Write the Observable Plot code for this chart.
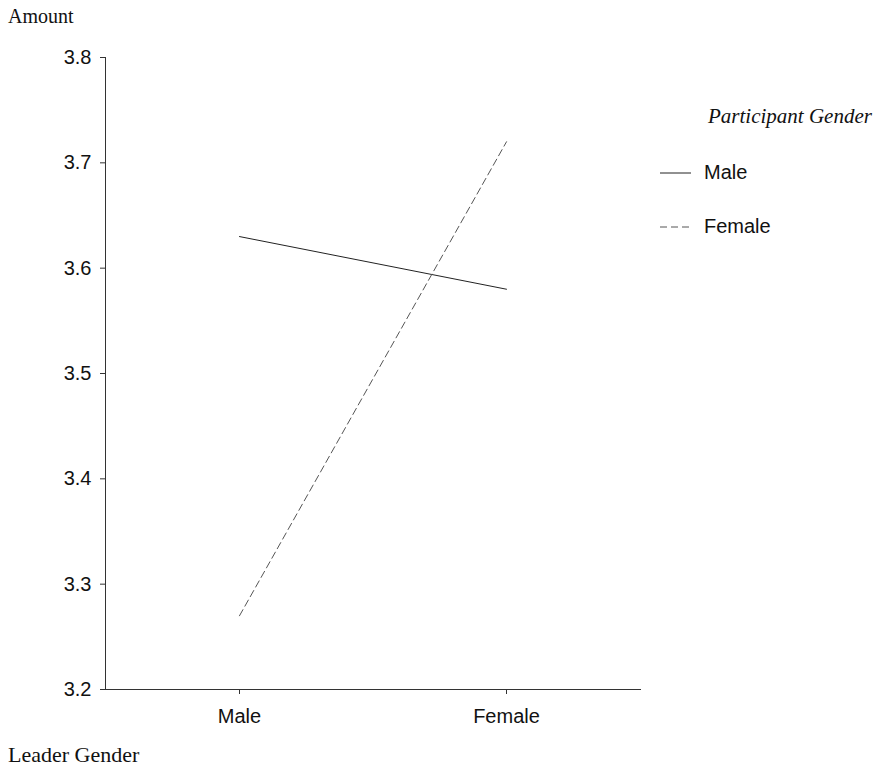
<!DOCTYPE html>
<html>
<head>
<meta charset="utf-8">
<script src="https://cdn.jsdelivr.net/npm/d3@7"></script>
<script src="https://cdn.jsdelivr.net/npm/@observablehq/plot@0.6"></script>
<style>
  body { margin: 0; background: #fff; }
  #wrap { position: relative; width: 883px; height: 777px; }
  .serif { font-family: "Liberation Serif", "DejaVu Serif", serif; color: #111; position: absolute; }
  .legend { position: absolute; left: 655px; top: 100px; font-family: "Liberation Sans", Arial, sans-serif; color: #111; }
</style>
</head>
<body>
<div id="wrap"></div>
<script>
const leaderGender = ["Male", "Female"];
const participantGender = ["Male", "Female"];
const maleParticipants = [3.63, 3.58];
const femaleParticipants = [3.27, 3.72];
const yTicks = [3.2, 3.3, 3.4, 3.5, 3.6, 3.7, 3.8];
const yTitle = "Amount";
const xTitle = "Leader Gender";
const legendTitle = "Participant Gender";

const rows = [];
leaderGender.forEach((g, i) => {
  rows.push({leader: g, participant: "Male", amount: maleParticipants[i]});
  rows.push({leader: g, participant: "Female", amount: femaleParticipants[i]});
});

const chart = Plot.plot({
  width: 883,
  height: 777,
  marginTop: 57,
  marginBottom: 88,
  marginLeft: 105,
  marginRight: 243,
  style: {fontFamily: "'Liberation Sans', Arial, sans-serif", fontSize: "20px", color: "#111", background: "#fff"},
  x: {type: "point", domain: leaderGender, padding: 0.5, label: null},
  y: {domain: [3.2, 3.8], ticks: yTicks, label: null},
  marks: [
    Plot.frame({anchor: "left", stroke: "#333"}),
    Plot.frame({anchor: "bottom", stroke: "#333"}),
    Plot.axisY({ticks: yTicks, tickSize: 5, tickPadding: 9, tickFormat: d3.format(".1f"), label: null, fontSize: 20, stroke: "#333"}),
    Plot.axisX({tickSize: 5, tickPadding: 14, label: null, fontSize: 20, stroke: "#333"}),
    Plot.line(rows.filter(d => d.participant === "Male"), {x: "leader", y: "amount", stroke: "#222", strokeWidth: 1}),
    Plot.line(rows.filter(d => d.participant === "Female"), {x: "leader", y: "amount", stroke: "#555", strokeWidth: 1, strokeDasharray: "7,4"})
  ]
});

const wrap = document.getElementById("wrap");
wrap.appendChild(chart);

const t1 = document.createElement("div");
t1.className = "serif";
t1.style.left = "8px"; t1.style.top = "5px"; t1.style.fontSize = "20px";
t1.textContent = yTitle;
wrap.appendChild(t1);

const t2 = document.createElement("div");
t2.className = "serif";
t2.style.left = "8px"; t2.style.top = "742px"; t2.style.fontSize = "22px";
t2.textContent = xTitle;
wrap.appendChild(t2);

const lg = document.createElement("div");
lg.className = "legend";
const lt = document.createElement("div");
lt.className = "serif";
lt.style.position = "absolute";
lt.style.left = "53px"; lt.style.top = "4px"; lt.style.fontSize = "21px"; lt.style.fontStyle = "italic"; lt.style.whiteSpace = "nowrap";
lt.textContent = legendTitle;
lg.appendChild(lt);
const dashes = ["none", "7,4"];
const strokes = ["#222", "#555"];
participantGender.forEach((p, i) => {
  const row = document.createElement("div");
  row.style.position = "absolute";
  row.style.left = "0px";
  row.style.top = (60 + i * 54) + "px";
  row.style.whiteSpace = "nowrap";
  row.style.display = "flex";
  row.style.alignItems = "center";
  const svg = d3.create("svg").attr("width", 44).attr("height", 24);
  svg.append("line").attr("x1", 5).attr("x2", 36).attr("y1", 13).attr("y2", 13)
    .attr("stroke", strokes[i]).attr("stroke-width", 1).attr("stroke-dasharray", dashes[i]);
  row.appendChild(svg.node());
  const s = document.createElement("span");
  s.style.fontSize = "20px";
  s.style.marginLeft = "5px";
  s.textContent = p;
  row.appendChild(s);
  lg.appendChild(row);
});
wrap.appendChild(lg);
</script>
</body>
</html>
